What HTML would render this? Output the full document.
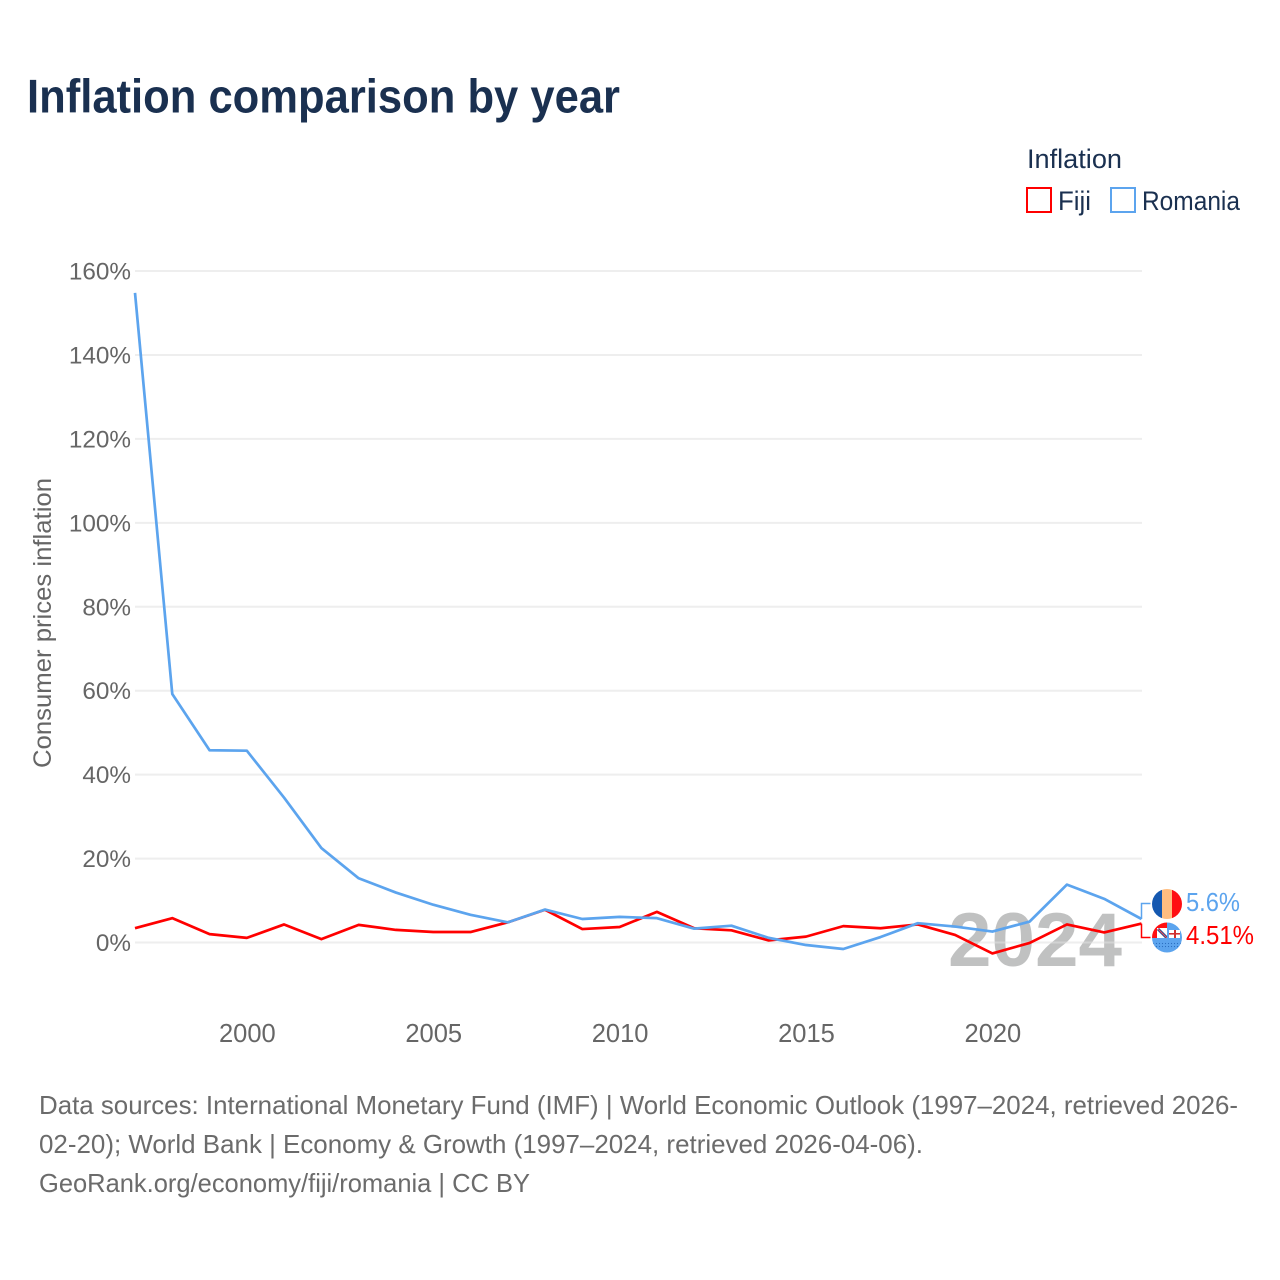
<!DOCTYPE html>
<html lang="en">
<head>
<meta charset="utf-8">
<title>Inflation comparison by year</title>
<style>
html,body{margin:0;padding:0;background:#fff;width:1280px;height:1280px;overflow:hidden}
svg{display:block;font-family:"Liberation Sans",sans-serif}
</style>
</head>
<body>
<svg id="chart" xmlns="http://www.w3.org/2000/svg" width="1280" height="1280" viewBox="0 0 1280 1280">
  <rect x="0" y="0" width="1280" height="1280" fill="#ffffff"/>
  <text x="27" y="112.5" font-size="47" font-weight="700" fill="#1a3050" textLength="593" lengthAdjust="spacingAndGlyphs">Inflation comparison by year</text>

  <g>
    <text x="1027" y="168" font-size="26.5" fill="#1a3050" textLength="95" lengthAdjust="spacingAndGlyphs">Inflation</text>
    <g>
      <rect x="1027" y="188" width="24" height="24" fill="none" stroke="#ff0000" stroke-width="2"/>
      <text x="1058" y="210" font-size="26.5" fill="#1a3050" textLength="33" lengthAdjust="spacingAndGlyphs">Fiji</text>
    </g>
    <g>
      <rect x="1111" y="188" width="24" height="24" fill="none" stroke="#5ca4ee" stroke-width="2"/>
      <text x="1142" y="210" font-size="26.5" fill="#1a3050" textLength="98" lengthAdjust="spacingAndGlyphs">Romania</text>
    </g>
  </g>

  <text transform="translate(51,768) rotate(-90)" x="0" y="0" font-size="25" fill="#666666" textLength="290" lengthAdjust="spacingAndGlyphs">Consumer prices inflation</text>

  <g id="grid"></g>
  <g id="yticks"></g>
  <g id="xticks"></g>

  <text x="948" y="966" font-size="76" font-weight="700" fill="#c0c1c1" textLength="174" lengthAdjust="spacingAndGlyphs">2024</text>
  <line x1="135" x2="1142" y1="942.5" y2="942.5" stroke="#eeeeee" stroke-opacity="0.4" stroke-width="2"/>

  <g id="series"></g>

  <defs>
    <clipPath id="romania-clip"><circle cx="1167" cy="904" r="15"/></clipPath>
    <clipPath id="fiji-clip"><circle cx="1167" cy="937.5" r="15"/></clipPath>
    <pattern id="fiji-dots" width="3" height="3" patternUnits="userSpaceOnUse">
      <rect width="3" height="3" fill="#5ca4ee"/>
      <circle cx="1.5" cy="1.5" r="0.6" fill="#2a6fc0"/>
    </pattern>
  </defs>

  <g id="flag-romania" clip-path="url(#romania-clip)">
    <rect x="1152" y="889" width="10" height="30" fill="#1558b0"/>
    <rect x="1162" y="889" width="10" height="30" fill="#ffbd80"/>
    <rect x="1172" y="889" width="10" height="30" fill="#ff0f12"/>
  </g>
  <g id="flag-fiji" clip-path="url(#fiji-clip)">
    <rect x="1152" y="922" width="15" height="16" fill="#ff0f12"/>
    <rect x="1157" y="928" width="10" height="10" fill="#ffffff"/>
    <line x1="1158" y1="929" x2="1167" y2="938" stroke="#1a4a90" stroke-width="3"/>
    <line x1="1158" y1="929" x2="1167" y2="938" stroke="#ff5050" stroke-width="1"/>
    <rect x="1167" y="922" width="15" height="16" fill="#5ca4ee"/>
    <rect x="1169" y="930" width="11" height="8" fill="#ffffff"/>
    <rect x="1174" y="930" width="2" height="8" fill="#d03030"/>
    <rect x="1169" y="933" width="11" height="1.6" fill="#d03030"/>
    <rect x="1152" y="938" width="30" height="15" fill="#5ca4ee"/>
    <rect x="1152" y="942" width="30" height="7" fill="url(#fiji-dots)"/>
  </g>

  <text id="value-romania" x="1186" y="911" font-size="26" fill="#5ca4ee" textLength="54" lengthAdjust="spacingAndGlyphs"></text>
  <text id="value-fiji" x="1186" y="944" font-size="26" fill="#ff0000" textLength="68" lengthAdjust="spacingAndGlyphs"></text>

  <g font-size="26" fill="#6b6b6b">
    <text x="39" y="1114" textLength="1199" lengthAdjust="spacingAndGlyphs">Data sources: International Monetary Fund (IMF) | World Economic Outlook (1997–2024, retrieved 2026-</text>
    <text x="39" y="1153" textLength="884" lengthAdjust="spacingAndGlyphs">02-20); World Bank | Economy &amp; Growth (1997–2024, retrieved 2026-04-06).</text>
    <text x="39" y="1192" textLength="491" lengthAdjust="spacingAndGlyphs">GeoRank.org/economy/fiji/romania | CC BY</text>
  </g>
</svg>
<script>
const years = [1997,1998,1999,2000,2001,2002,2003,2004,2005,2006,2007,2008,2009,2010,2011,2012,2013,2014,2015,2016,2017,2018,2019,2020,2021,2022,2023,2024];
const romaniaValues = [154.8,59.2,45.8,45.7,34.5,22.5,15.3,11.9,9.0,6.6,4.8,7.85,5.6,6.1,5.8,3.3,4.0,1.1,-0.6,-1.55,1.3,4.6,3.8,2.6,5.0,13.8,10.4,5.6];
const fijiValues = [3.4,5.8,2.0,1.1,4.3,0.8,4.2,3.0,2.5,2.5,4.8,7.8,3.2,3.7,7.3,3.4,2.9,0.5,1.4,3.9,3.4,4.3,1.8,-2.6,-0.1,4.3,2.4,4.51];
const yTickValues = [0,20,40,60,80,100,120,140,160];
const xTickValues = [2000,2005,2010,2015,2020];

const NS = 'http://www.w3.org/2000/svg';
function xScale(year){ return 135 + (year - 1997) * (1141.5 - 135) / 27; }
function yScale(v){ return 942.5 - v * (942.5 - 271) / 160; }
function make(tag, attrs, parent){
  const el = document.createElementNS(NS, tag);
  for (const k in attrs) el.setAttribute(k, attrs[k]);
  parent.appendChild(el);
  return el;
}

const gridGroup = document.getElementById('grid');
const yTickGroup = document.getElementById('yticks');
yTickValues.forEach(function(v){
  const line = make('line', {x1:135, x2:1142, y1:yScale(v), y2:yScale(v), stroke:'#eeeeee', 'stroke-width':2}, gridGroup);
  
  
  const label = make('text', {x:131, y:yScale(v) + 8.5, 'font-size':24.3, fill:'#666666', 'text-anchor':'end'}, yTickGroup);
  
  
  label.textContent = v + '%';
});

const xTickGroup = document.getElementById('xticks');
xTickValues.forEach(function(year){
  const label = make('text', {x:xScale(year) + 0.5, y:1042, 'font-size':25.5, fill:'#666666', 'text-anchor':'middle'}, xTickGroup);
  
  
  label.textContent = String(year);
});

function pointsFor(values){
  return values.map(function(v, i){ return xScale(years[i]).toFixed(2) + ',' + yScale(v).toFixed(2); }).join(' ');
}
const seriesGroup = document.getElementById('series');
const fijiLine = make('polyline', {points:pointsFor(fijiValues), fill:'none', stroke:'#ff0000', 'stroke-width':2.7, 'stroke-linejoin':'round'}, seriesGroup);


const romaniaLine = make('polyline', {points:pointsFor(romaniaValues), fill:'none', stroke:'#5ca4ee', 'stroke-width':2.7, 'stroke-linejoin':'round'}, seriesGroup);



const lastIndex = years.length - 1;
const lastX = xScale(years[lastIndex]);
const romaniaConnector = make('polyline', {points:[lastX + ',' + yScale(romaniaValues[lastIndex]), lastX + ',903.5', (lastX + 9) + ',903.5'].join(' '), fill:'none', stroke:'#5ca4ee', 'stroke-width':1.5}, seriesGroup);


const fijiConnector = make('polyline', {points:[lastX + ',' + yScale(fijiValues[lastIndex]), lastX + ',937.5', (lastX + 9) + ',937.5'].join(' '), fill:'none', stroke:'#ff0000', 'stroke-width':1.5}, seriesGroup);



document.getElementById('value-romania').textContent = romaniaValues[lastIndex] + '%';
document.getElementById('value-fiji').textContent = fijiValues[lastIndex] + '%';
</script>
</body>
</html>
